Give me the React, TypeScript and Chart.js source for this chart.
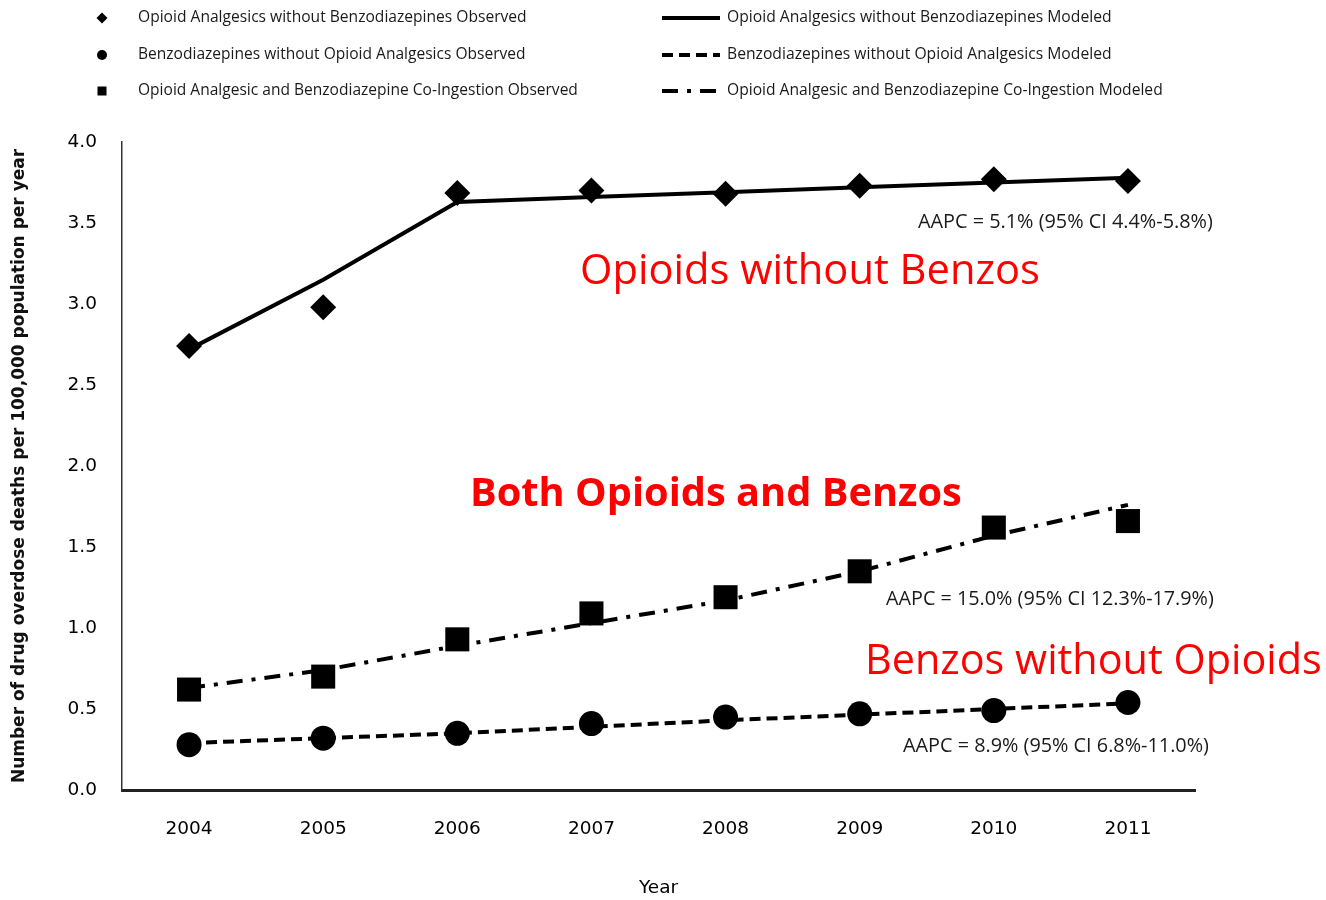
import React, { useEffect, useRef } from "react";
import { Chart, registerables } from "chart.js";

Chart.register(...registerables);

const years = ["2004", "2005", "2006", "2007", "2008", "2009", "2010", "2011"];
const opioidObserved = [2.74, 2.98, 3.685, 3.7, 3.68, 3.73, 3.77, 3.76];
const opioidModeled = [2.72, 3.15, 3.63, 3.66, 3.69, 3.72, 3.75, 3.78];
const benzoObserved = [0.28, 0.32, 0.35, 0.41, 0.45, 0.47, 0.49, 0.54];
const benzoModeled = [0.29, 0.32, 0.35, 0.39, 0.43, 0.465, 0.5, 0.535];
const coObserved = [0.62, 0.7, 0.93, 1.09, 1.19, 1.35, 1.62, 1.66];
const coModeled = [0.63, 0.74, 0.89, 1.03, 1.17, 1.35, 1.57, 1.76];

const legendObserved = [
  "Opioid Analgesics without Benzodiazepines Observed",
  "Benzodiazepines without Opioid Analgesics Observed",
  "Opioid Analgesic and Benzodiazepine Co-Ingestion Observed",
];
const legendModeled = [
  "Opioid Analgesics without Benzodiazepines Modeled",
  "Benzodiazepines without Opioid Analgesics Modeled",
  "Opioid Analgesic and Benzodiazepine Co-Ingestion Modeled",
];
const aapcLabels = [
  "AAPC = 5.1% (95% CI 4.4%-5.8%)",
  "AAPC = 15.0% (95% CI 12.3%-17.9%)",
  "AAPC = 8.9% (95% CI 6.8%-11.0%)",
];
const bigLabels = ["Opioids without Benzos", "Both Opioids and Benzos", "Benzos without Opioids"];

const yTitle = "Number of drug overdose deaths per 100,000 population per year";
const xTitle = "Year";

const DASH_BENZO = [11, 6];
const DASH_CO = [16, 9, 4, 9];

function fitText(
  ctx: CanvasRenderingContext2D,
  text: string,
  x: number,
  cy: number,
  targetW: number,
  weight: string,
  family: string,
  color: string
) {
  ctx.font = `${weight} 20px ${family}`;
  const w20 = ctx.measureText(text).width;
  const size = (20 * targetW) / w20;
  ctx.font = `${weight} ${size}px ${family}`;
  ctx.fillStyle = color;
  ctx.textAlign = "left";
  ctx.textBaseline = "middle";
  ctx.fillText(text, x, cy);
}

const overlayPlugin = {
  id: "overlay",
  afterDraw(chart: any) {
    const ctx: CanvasRenderingContext2D = chart.ctx;
    ctx.save();
    const fam = "'Open Sans', sans-serif";
    const rows = [18, 55, 91];
    ctx.fillStyle = "#000";
    ctx.beginPath();
    ctx.moveTo(102, rows[0] - 5.5);
    ctx.lineTo(107.5, rows[0]);
    ctx.lineTo(102, rows[0] + 5.5);
    ctx.lineTo(96.5, rows[0]);
    ctx.closePath();
    ctx.fill();
    ctx.beginPath();
    ctx.arc(102, rows[1], 5, 0, Math.PI * 2);
    ctx.fill();
    ctx.fillRect(97.5, rows[2] - 4.5, 9, 9);

    const lw = [389, 388, 440];
    legendObserved.forEach((t, i) => fitText(ctx, t, 138, rows[i], lw[i], "500", fam, "#1a1a1a"));

    ctx.strokeStyle = "#000";
    ctx.lineWidth = 4;
    const dashes = [[], DASH_BENZO, DASH_CO];
    dashes.forEach((d, i) => {
      ctx.setLineDash(d);
      ctx.beginPath();
      ctx.moveTo(662, rows[i]);
      ctx.lineTo(i === 2 ? 725 : 720, rows[i]);
      ctx.stroke();
    });
    ctx.setLineDash([]);
    const rw = [385, 385, 436];
    legendModeled.forEach((t, i) => fitText(ctx, t, 727, rows[i], rw[i], "500", fam, "#1a1a1a"));

    fitText(ctx, aapcLabels[0], 918, 222, 295, "500", fam, "#1a1a1a");
    fitText(ctx, aapcLabels[1], 886, 599, 328, "500", fam, "#1a1a1a");
    fitText(ctx, aapcLabels[2], 903, 746, 306, "500", fam, "#1a1a1a");

    fitText(ctx, bigLabels[0], 580, 272, 460, "400", fam, "#ff0000");
    fitText(ctx, bigLabels[1], 470, 495, 492, "700", fam, "#ff0000");
    fitText(ctx, bigLabels[2], 865, 662, 457, "400", fam, "#ff0000");
    ctx.restore();
  },
};

export default function App() {
  const ref = useRef<HTMLCanvasElement>(null);
  useEffect(() => {
    document.body.style.margin = "0";
    const canvas = ref.current!;
    const chart = new Chart(canvas, {
      type: "line",
      data: {
        labels: years,
        datasets: [
          {
            label: "Opioid Analgesics without Benzodiazepines Modeled",
            data: opioidModeled,
            borderColor: "#000",
            borderWidth: 4,
            pointRadius: 0,
            tension: 0,
            fill: false,
          },
          {
            label: "Benzodiazepines without Opioid Analgesics Modeled",
            data: benzoModeled,
            borderColor: "#000",
            borderWidth: 4,
            borderDash: DASH_BENZO,
            pointRadius: 0,
            tension: 0,
            fill: false,
          },
          {
            label: "Opioid Analgesic and Benzodiazepine Co-Ingestion Modeled",
            data: coModeled,
            borderColor: "#000",
            borderWidth: 4,
            borderDash: DASH_CO,
            pointRadius: 0,
            tension: 0,
            fill: false,
          },
          {
            label: "Opioid Analgesics without Benzodiazepines Observed",
            data: opioidObserved,
            showLine: false,
            pointStyle: "rectRot",
            pointRadius: 13,
            pointBackgroundColor: "#000",
            pointBorderColor: "#000",
            pointBorderWidth: 0,
          },
          {
            label: "Benzodiazepines without Opioid Analgesics Observed",
            data: benzoObserved,
            showLine: false,
            pointStyle: "circle",
            pointRadius: 12.5,
            pointBackgroundColor: "#000",
            pointBorderColor: "#000",
            pointBorderWidth: 0,
          },
          {
            label: "Opioid Analgesic and Benzodiazepine Co-Ingestion Observed",
            data: coObserved,
            showLine: false,
            pointStyle: "rect",
            pointRadius: 17,
            pointBackgroundColor: "#000",
            pointBorderColor: "#000",
            pointBorderWidth: 0,
          },
        ],
      },
      options: {
        responsive: false,
        animation: false,
        layout: { padding: { left: 0, top: 142, right: 131, bottom: 0 } },
        plugins: { legend: { display: false }, tooltip: { enabled: false } },
        scales: {
          x: {
            type: "category",
            offset: true,
            grid: { display: false, drawTicks: false },
            border: { display: true, color: "#222", width: 3 },
            ticks: {
              color: "#000",
              font: { family: "'DejaVu Sans', sans-serif", size: 18.5 },
              padding: 28,
              maxRotation: 0,
            },
            title: {
              display: true,
              text: xTitle,
              color: "#000",
              font: { family: "'DejaVu Sans', sans-serif", size: 18.5 },
              padding: { top: 0, bottom: 1 },
            },
            afterFit: (s: any) => {
              s.height = 110;
            },
          },
          y: {
            min: 0,
            max: 4,
            grid: { display: false, drawTicks: false },
            border: { display: true, color: "#333", width: 1.5 },
            ticks: {
              stepSize: 0.5,
              color: "#000",
              font: { family: "'DejaVu Sans', sans-serif", size: 18.5 },
              padding: 25,
              callback: (v: any) => Number(v).toFixed(1),
            },
            title: {
              display: true,
              text: yTitle,
              color: "#111",
              font: { family: "'DejaVu Sans', sans-serif", size: 17, weight: "bold" },
              padding: { top: 9, bottom: 0 },
            },
            afterFit: (s: any) => {
              s.width = 122;
            },
          },
        },
      },
      plugins: [overlayPlugin],
    });
    return () => chart.destroy();
  }, []);
  return (
    <div style={{ width: 1326, height: 900 }}>
      <canvas ref={ref} width={1326} height={900} style={{ display: "block" }} />
    </div>
  );
}
